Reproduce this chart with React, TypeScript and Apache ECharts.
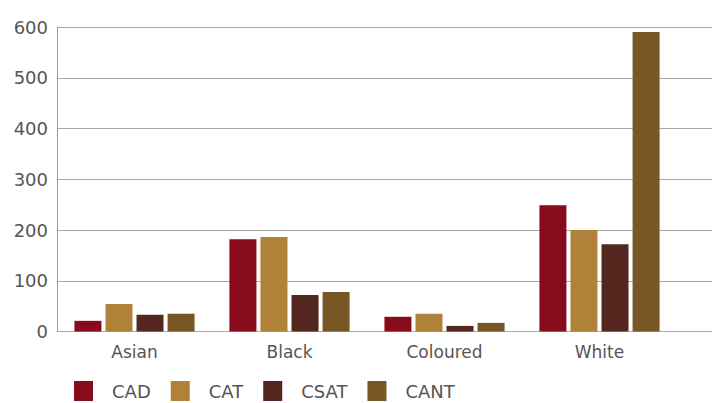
import React, { useEffect, useRef } from "react";
import * as echarts from "echarts";

const categories = ["Asian", "Black", "Coloured", "White"];
const seriesNames = ["CAD", "CAT", "CSAT", "CANT"];
const cadValues = [21, 182, 29, 249];
const catValues = [54, 186, 35, 200];
const csatValues = [33, 72, 11, 172];
const cantValues = [35, 78, 17, 590];
const colors = ["#870b1b", "#b08239", "#53271e", "#785724"];

const FONT = "DejaVu Sans";

export default function App() {
  const ref = useRef<HTMLDivElement>(null);
  useEffect(() => {
    if (!ref.current) return;
    const chart = echarts.init(ref.current, null, { renderer: "svg" });
    const values = [cadValues, catValues, csatValues, cantValues];
    chart.setOption({
      animation: false,
      backgroundColor: "#ffffff",
      grid: [
        { left: 57, width: 620, top: 27, bottom: 71.5 },
        { left: 57, right: 0, top: 27, bottom: 71.5 },
      ],
      legend: {
        left: 74,
        top: 381,
        padding: 0,
        itemWidth: 19,
        itemHeight: 20,
        itemGap: 20,
        icon: "rect",
        data: seriesNames,
        textStyle: {
          color: "#555555",
          fontSize: 18,
          lineHeight: 20,
          fontFamily: FONT,
          padding: [0, 0, 0, 14],
        },
      },
      xAxis: [
        {
          type: "category",
          gridIndex: 0,
          data: categories,
          axisLine: { show: false },
          axisTick: { show: false },
          axisLabel: {
            color: "#555555",
            fontSize: 17,
            fontFamily: FONT,
            margin: 12,
          },
        },
        {
          type: "value",
          gridIndex: 1,
          show: false,
          min: 0,
          max: 1,
        },
      ],
      yAxis: [
        {
          type: "value",
          gridIndex: 0,
          min: 0,
          max: 600,
          interval: 100,
          show: false,
        },
        {
          type: "value",
          gridIndex: 1,
          min: 0,
          max: 600,
          interval: 100,
          axisLine: { show: true, lineStyle: { color: "#9a9a9a", width: 1 } },
          axisTick: { show: false },
          axisLabel: {
            color: "#555555",
            fontSize: 18,
            fontFamily: FONT,
            margin: 9,
          },
          splitLine: { show: true, lineStyle: { color: "#a8a8a8", width: 1 } },
        },
      ],
      series: seriesNames.map((name, i) => ({
        name,
        type: "bar",
        xAxisIndex: 0,
        yAxisIndex: 0,
        data: values[i],
        barWidth: 27,
        barGap: "15%",
        itemStyle: { color: colors[i] },
      })),
    });
    return () => chart.dispose();
  }, []);
  return (
    <div
      ref={ref}
      style={{ position: "fixed", left: 0, top: 0, width: 712, height: 403 }}
    />
  );
}
